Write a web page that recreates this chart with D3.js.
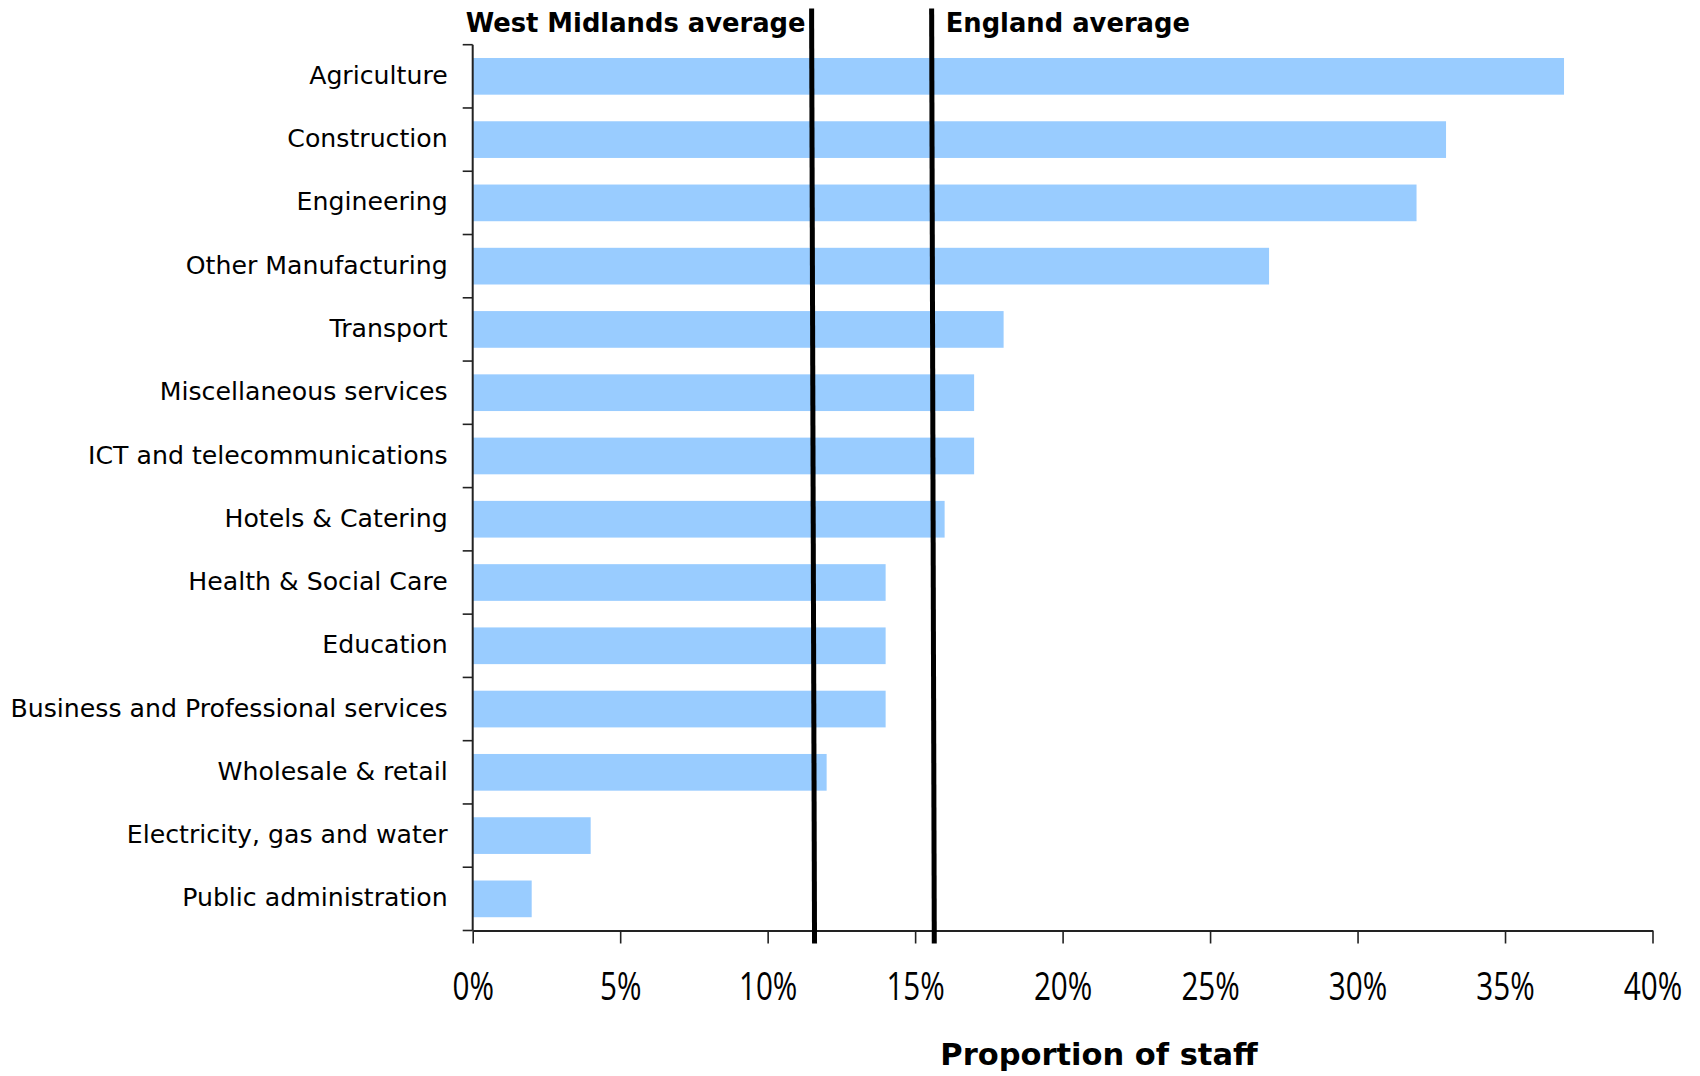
<!DOCTYPE html>
<html>
<head>
<meta charset="utf-8">
<script src="https://cdn.jsdelivr.net/npm/d3@7"></script>
<style>
  html, body { margin: 0; padding: 0; background: #fff; }
  svg { display: block; }
</style>
</head>
<body>
<svg id="chart" width="1700" height="1076"></svg>
<script>
const categories = [
  "Agriculture", "Construction", "Engineering", "Other Manufacturing", "Transport",
  "Miscellaneous services", "ICT and telecommunications", "Hotels & Catering",
  "Health & Social Care", "Education", "Business and Professional services",
  "Wholesale & retail", "Electricity, gas and water", "Public administration"
];
const values = [0.37, 0.33, 0.32, 0.27, 0.18, 0.17, 0.17, 0.16, 0.14, 0.14, 0.14, 0.12, 0.04, 0.02];
const xTicks = [0, 0.05, 0.10, 0.15, 0.20, 0.25, 0.30, 0.35, 0.40];
// reference lines: value at top, value at bottom (slightly slanted in source)
const refLines = [
  { label: "West Midlands average", top: 0.1149, bottom: 0.1159, labelSide: "left" },
  { label: "England average", top: 0.1556, bottom: 0.1565, labelSide: "right" }
];
const xTitle = "Proportion of staff";

const svg = d3.select("#chart");
const pLeft = 472.7, pRight = 1652.5, pTop = 44.7, pBottom = 930.5;

const x = d3.scaleLinear().domain([0, 0.4]).range([pLeft, pRight]);
const y = d3.scaleBand().domain(categories).range([pTop, pBottom])
  .paddingInner(0.42).paddingOuter(0.21);

// bars
svg.append("g").selectAll("rect").data(categories).join("rect")
  .attr("x", x(0))
  .attr("y", d => y(d))
  .attr("width", (d, i) => x(values[i]) - x(0))
  .attr("height", y.bandwidth())
  .attr("fill", "#99CCFF");

// x axis
const xAxis = svg.append("g")
  .attr("transform", `translate(0,${pBottom})`)
  .call(d3.axisBottom(x).tickValues(xTicks).tickFormat(d3.format(".0%")).tickSize(13).tickSizeOuter(0));
xAxis.select(".domain").attr("stroke", "#222").attr("stroke-width", 2);
xAxis.selectAll(".tick line").attr("stroke", "#222").attr("stroke-width", 1.6);
xAxis.selectAll(".tick text")
  .attr("y", 70).attr("dy", null)
  .attr("transform", "scale(0.78,1)")
  .attr("font-family", "'Open Sans', sans-serif")
  .attr("font-size", 38)
  .attr("fill", "#000");

// y axis: ticks at band boundaries
const yAxisG = svg.append("g");
yAxisG.append("line")
  .attr("x1", x(0)).attr("x2", x(0))
  .attr("y1", pTop).attr("y2", pBottom)
  .attr("stroke", "#222").attr("stroke-width", 2);
const step = y.step();
const boundaries = d3.range(categories.length + 1).map(i => y(categories[0]) - y.paddingOuter() * step + i * step);
yAxisG.selectAll("line.tk").data(boundaries).join("line")
  .attr("class", "tk")
  .attr("x1", x(0) - 10).attr("x2", x(0))
  .attr("y1", d => d).attr("y2", d => d)
  .attr("stroke", "#222").attr("stroke-width", 1.6);

// category labels
svg.append("g").selectAll("text").data(categories).join("text")
  .attr("x", x(0) - 25)
  .attr("y", d => y(d) + y.bandwidth() / 2)
  .attr("dy", "0.3em")
  .attr("text-anchor", "end")
  .attr("font-family", "'DejaVu Sans', sans-serif")
  .attr("font-size", 25.2)
  .attr("fill", "#000")
  .text(d => d);

// reference lines
refLines.forEach(r => {
  svg.append("line")
    .attr("x1", x(r.top)).attr("x2", x(r.bottom))
    .attr("y1", 8.5).attr("y2", pBottom + 13)
    .attr("stroke", "#000").attr("stroke-width", 5);
  svg.append("text")
    .attr("x", r.labelSide === "left" ? x(r.top) - 6 : x(r.top) + 14)
    .attr("y", 31.5)
    .attr("text-anchor", r.labelSide === "left" ? "end" : "start")
    .attr("font-family", "'DejaVu Sans', sans-serif")
    .attr("font-weight", "bold")
    .attr("font-size", 25.8)
    .attr("fill", "#000")
    .text(r.label);
});

// x axis title
svg.append("text")
  .attr("x", 1099)
  .attr("y", 1065)
  .attr("text-anchor", "middle")
  .attr("font-family", "'DejaVu Sans', sans-serif")
  .attr("font-weight", "bold")
  .attr("font-size", 30.5)
  .attr("fill", "#000")
  .text(xTitle);
</script>
</body>
</html>
